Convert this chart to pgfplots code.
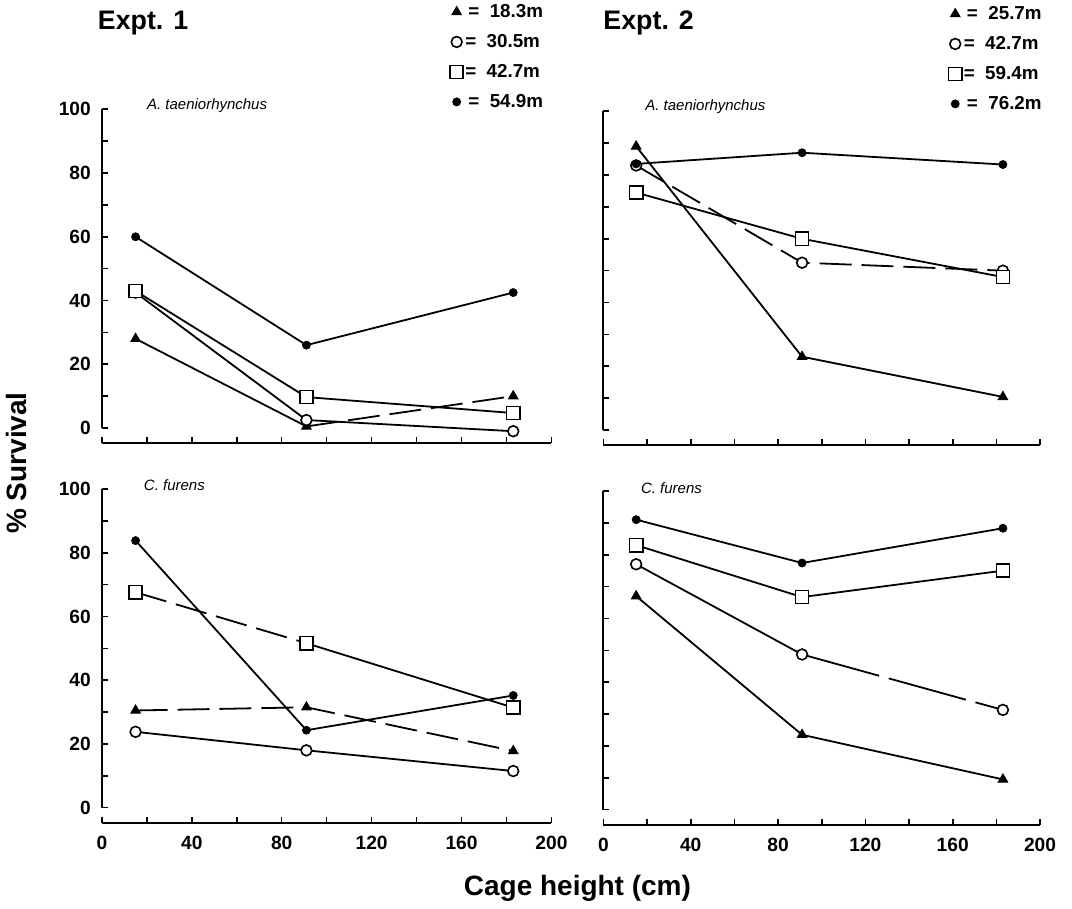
\documentclass[border=0pt]{standalone}
\usepackage{pgfplots}
\pgfplotsset{compat=1.18}
\usepackage{fontspec}
\setmainfont{Liberation Sans}

\pgfplotsset{
  panel/.style={
    scale only axis, height=167pt,
    xmin=0, xmax=200, ymin=-4.7, ymax=100,
    axis lines=left, axis line style={-, line width=1pt},
    y axis line style={draw=none},
    clip=false,
    tick align=inside, major tick length=3pt, minor tick length=3pt,
    every tick/.style={black, line width=0.8pt},
    xtick={0,40,...,200}, minor xtick={20,60,...,180},
    ytick={0,20,...,100}, minor ytick={10,30,...,90},
    /pgf/number format/assume math mode=true,
    tick label style={font=\bfseries\fontsize{9.6}{10}\selectfont},
    xticklabel style={yshift=-3pt},
    yticklabel style={xshift=-2pt},
    legend style={draw=none, fill=none, at={(axis description cs:1,1)},
      anchor=south east, yshift=-2.5pt,
      font=\bfseries\fontsize{9.4}{10}\selectfont, row sep=7pt,
      nodes={inner sep=1pt, text height=6pt, text depth=0pt}},
    legend cell align=left,
  },
  ln/.style={no marks, line width=0.9pt, black, forget plot},
  dsh/.style={ln, dash pattern=on 16pt off 5pt},
  mk/.style={only marks, black,
    legend image code/.code={\draw[mark repeat=2,mark phase=2,##1] plot coordinates {(0pt,0pt)(4pt,0pt)(8pt,0pt)};}},
  mtri/.style={mk, mark=triangle*, mark size=2.7pt, mark options={fill=black, line width=0.5pt}},
  mcirc/.style={mk, mark=*, mark size=2.7pt, mark options={fill=white, draw=black, line width=0.8pt}},
  msq/.style={mk, mark=square*, mark size=3.3pt, mark options={fill=white, draw=black, line width=0.8pt}},
  mdot/.style={mk, mark=*, mark size=2pt, mark options={fill=black}},
}
\newcommand{\yline}{\draw[line width=1pt] (axis cs:0,0) -- (axis cs:0,100);}

\begin{document}
\begin{tikzpicture}
\path (0pt,0pt) rectangle (536pt,451pt);

% Expt. 1, A. taeniorhynchus
\begin{axis}[panel, width=225pt, at={(50.5pt,232pt)}, anchor=south west, xticklabels={},
  legend style={xshift=0pt}]
  \yline
  \addplot[ln] coordinates {(15,28) (91,0.5)};
  \addplot[dsh] coordinates {(91,0.5) (183,10)};
  \addplot[ln] coordinates {(15,42.5) (91,2.5) (183,-1)};
  \addplot[ln] coordinates {(15,43) (91,9.7) (183,4.7)};
  \addplot[ln] coordinates {(15,60) (91,26) (183,42.5)};
  \addplot[mtri] coordinates {(15,28) (91,0.5) (183,10)};
  \addlegendentry{\,=\ \ 18.3m}
  \addplot[mcirc] coordinates {(15,42.5) (91,2.5) (183,-1)};
  \addlegendentry{=\ \ 30.5m}
  \addplot[msq] coordinates {(15,43) (91,9.7) (183,4.7)};
  \addlegendentry{=\ \ 42.7m}
  \addplot[mdot] coordinates {(15,60) (91,26) (183,42.5)};
  \addlegendentry{\,=\ \ 54.9m}
  \node[anchor=west, font=\itshape\fontsize{7.5}{8}\selectfont] at (rel axis cs:0.085,1.012) {A. taeniorhynchus};
\end{axis}

% Expt. 2, A. taeniorhynchus
\begin{axis}[panel, width=218.5pt, at={(301.5pt,231pt)}, anchor=south west, xticklabels={}, yticklabels={},
  legend style={xshift=5pt}]
  \yline
  \addplot[ln] coordinates {(15,89) (91,23) (183,10.4)};
  \addplot[dsh] coordinates {(15,83) (91,52.5) (183,50)};
  \addplot[ln] coordinates {(15,74.5) (91,60) (183,48)};
  \addplot[ln] coordinates {(15,83.5) (91,87) (183,83.3)};
  \addplot[mtri] coordinates {(15,89) (91,23) (183,10.4)};
  \addlegendentry{\,=\ \ 25.7m}
  \addplot[mcirc] coordinates {(15,83) (91,52.5) (183,50)};
  \addlegendentry{=\ \ 42.7m}
  \addplot[msq] coordinates {(15,74.5) (91,60) (183,48)};
  \addlegendentry{=\ \ 59.4m}
  \addplot[mdot] coordinates {(15,83.5) (91,87) (183,83.3)};
  \addlegendentry{\,=\ \ 76.2m}
  \node[anchor=west, font=\itshape\fontsize{7.5}{8}\selectfont] at (rel axis cs:0.08,1.015) {A. taeniorhynchus};
\end{axis}

% Expt. 1, C. furens
\begin{axis}[panel, width=225pt, at={(50.5pt,42pt)}, anchor=south west]
  \yline
  \addplot[dsh] coordinates {(15,30.5) (91,31.5) (183,17.8)};
  \addplot[ln] coordinates {(15,23.8) (91,18) (183,11.5)};
  \addplot[dsh] coordinates {(15,67.6) (91,51.6)};
  \addplot[ln] coordinates {(91,51.6) (183,31.4)};
  \addplot[ln] coordinates {(15,83.8) (91,24.3) (183,35.2)};
  \addplot[mtri] coordinates {(15,30.5) (91,31.5) (183,17.8)};
  \addplot[mcirc] coordinates {(15,23.8) (91,18) (183,11.5)};
  \addplot[msq] coordinates {(15,67.6) (91,51.6) (183,31.4)};
  \addplot[mdot] coordinates {(15,83.8) (91,24.3) (183,35.2)};
  \node[anchor=west, font=\itshape\fontsize{7.5}{8}\selectfont] at (rel axis cs:0.078,1.012) {C. furens};
\end{axis}

% Expt. 2, C. furens
\begin{axis}[panel, width=218.5pt, at={(301.5pt,41pt)}, anchor=south west, yticklabels={}]
  \yline
  \addplot[ln] coordinates {(15,67) (91,23.5) (183,9.5)};
  \addplot[ln] coordinates {(15,77) (91,48.7)};
  \addplot[ln, dash pattern=on 40pt off 5pt] coordinates {(91,48.7) (183,31.3)};
  \addplot[ln] coordinates {(15,83) (91,66.7) (183,75)};
  \addplot[ln] coordinates {(15,91) (91,77.4) (183,88.3)};
  \addplot[mtri] coordinates {(15,67) (91,23.5) (183,9.5)};
  \addplot[mcirc] coordinates {(15,77) (91,48.7) (183,31.3)};
  \addplot[msq] coordinates {(15,83) (91,66.7) (183,75)};
  \addplot[mdot] coordinates {(15,91) (91,77.4) (183,88.3)};
  \node[anchor=west, font=\itshape\fontsize{7.5}{8}\selectfont] at (rel axis cs:0.07,1.009) {C. furens};
\end{axis}

\node[anchor=west, font=\bfseries\fontsize{13.4}{15}\selectfont] at (45pt,442pt) {Expt. 1};
\node[anchor=west, font=\bfseries\fontsize{13.4}{15}\selectfont] at (298pt,442pt) {Expt. 2};
\node[rotate=90, font=\bfseries\fontsize{14}{16}\selectfont] at (8pt,222pt) {\% Survival};
\node[font=\bfseries\fontsize{14}{16}\selectfont] at (288.5pt,9pt) {Cage height (cm)};
\end{tikzpicture}
\end{document}
